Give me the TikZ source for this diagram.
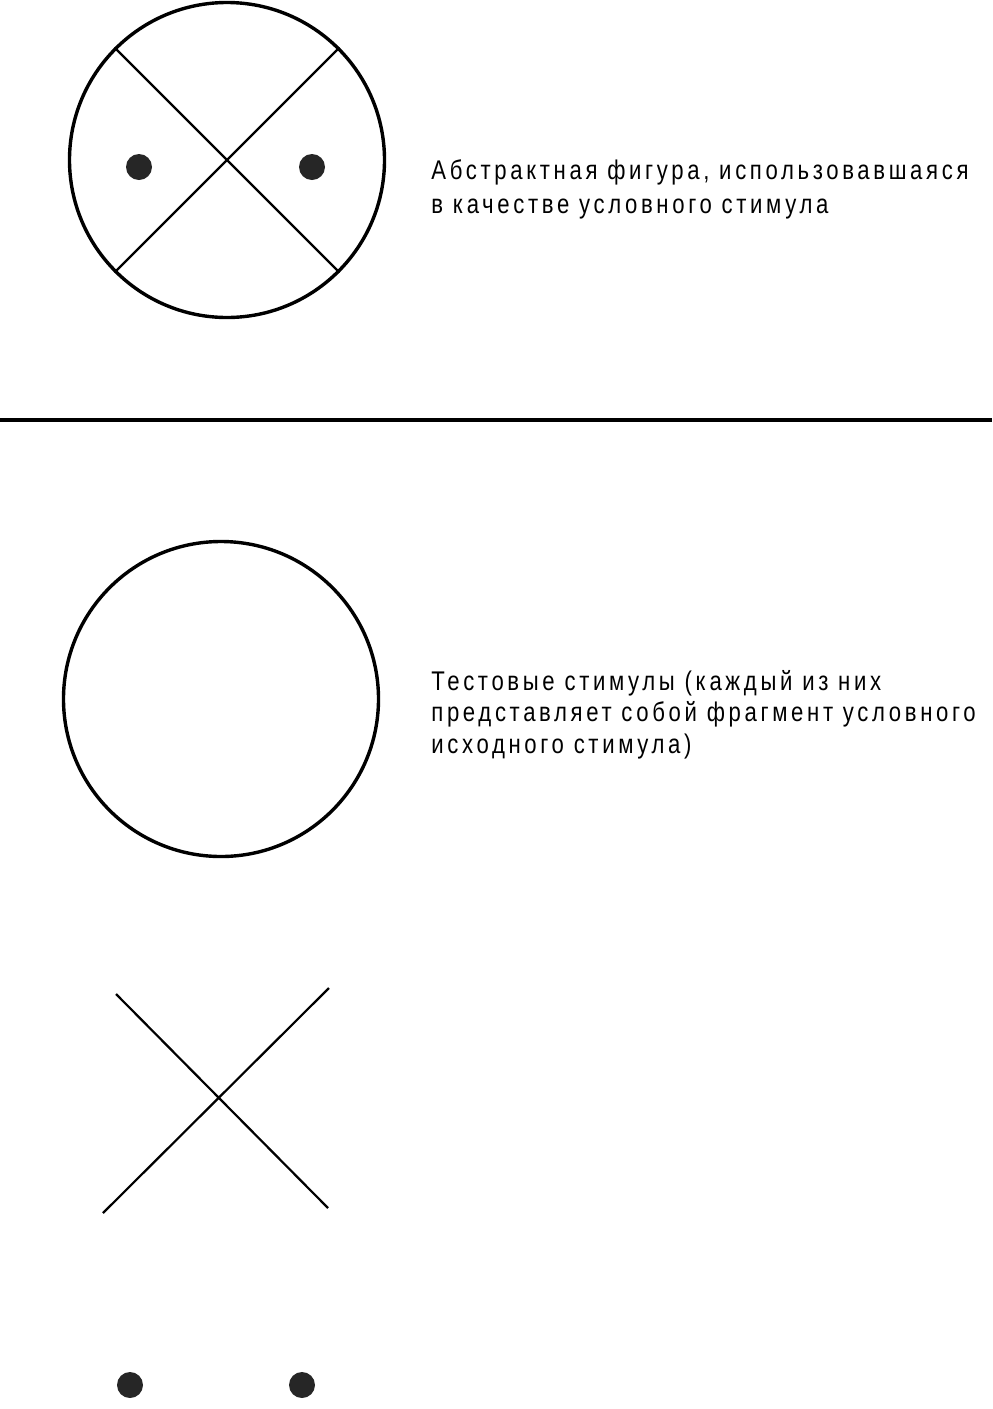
\documentclass[tikz,border=0pt]{standalone}
\usepackage{fontspec}
\setmainfont{Liberation Sans}[FakeStretch=0.82,LetterSpace=13.5]
\usepackage{tikz}
\usetikzlibrary{positioning}

\begin{document}
\begin{tikzpicture}[x=0.5pt,y=-0.5pt,
  ring/.style={draw,shape=circle,line width=1.7pt,minimum size=157.5pt,inner sep=0pt},
  spot/.style={shape=circle,fill=black!85,minimum size=13pt,inner sep=0pt},
  bar/.style={line width=1.1pt},
  caption/.style={anchor=base west,align=left,inner sep=0pt}]
  \useasboundingbox (0,0) rectangle (992,1409);
  % Conditioned stimulus: circle, cross and two spots
  \path (227,160) node[ring] (Whole) {};
  \path (139,167) node[spot] (WholeL) {};
  \path (312,167) node[spot] (WholeR) {};
  \draw[bar] (Whole.135) -- (Whole.-45) (Whole.45) -- (Whole.225);
  \path (431,213) node[caption,font=\fontsize{13.5}{17}\selectfont] (TextA)
    {Абстрактная фигура, использовавшаяся\\в качестве условного стимула};
  % Separating rule
  \coordinate (RuleL) at (0,420);
  \coordinate (RuleR) at (992,420);
  \draw[line width=1.6pt] (RuleL) -- (RuleR);
  % Test stimuli: the circle alone
  \path (221,699) node[ring] (Ring) {};
  \path (431,753) node[caption,font=\fontsize{13.5}{15.75}\selectfont] (TextB)
    {Тестовые стимулы (каждый из них\\представляет собой фрагмент условного\\исходного стимула)};
  % the cross alone
  \coordinate (CrossA1) at (116,994);
  \coordinate (CrossA2) at (328,1208);
  \coordinate (CrossB1) at (329,988);
  \coordinate (CrossB2) at (103,1213);
  \draw[bar] (CrossA1) -- (CrossA2) (CrossB1) -- (CrossB2);
  % the two spots alone
  \path (130,1385) node[spot] (SpotL) {};
  \path (302,1385) node[spot] (SpotR) {};
\end{tikzpicture}
\end{document}
